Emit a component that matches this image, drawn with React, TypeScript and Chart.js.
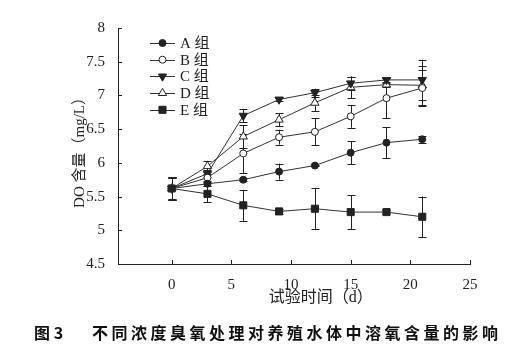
import React, { useEffect, useRef } from "react";
import { Chart, registerables } from "chart.js";

Chart.register(...registerables);

const days = [0, 3, 6, 9, 12, 15, 18, 21];
const groupA = [5.62, 5.69, 5.75, 5.87, 5.96, 6.15, 6.3, 6.35];
const groupAErr = [0.17, 0.03, 0.02, 0.12, 0.01, 0.17, 0.23, 0.05];
const groupB = [5.62, 5.78, 6.14, 6.38, 6.46, 6.69, 6.96, 7.11];
const groupBErr = [0.16, 0.05, 0.29, 0.11, 0.2, 0.17, 0.3, 0.26];
const groupC = [5.62, 5.84, 6.7, 6.94, 7.04, 7.18, 7.23, 7.23];
const groupCErr = [0.17, 0.05, 0.1, 0.03, 0.06, 0.1, 0.03, 0.3];
const groupD = [5.62, 5.95, 6.39, 6.64, 6.89, 7.12, 7.16, 7.15];
const groupDErr = [0.15, 0.08, 0.17, 0.1, 0.12, 0.16, 0.03, 0.29];
const groupE = [5.62, 5.54, 5.37, 5.28, 5.32, 5.27, 5.27, 5.2];
const groupEErr = [0.17, 0.12, 0.23, 0.04, 0.3, 0.25, 0.03, 0.3];

const seriesLabels = ["A 组", "B 组", "C 组", "D 组", "E 组"];
const xTickValues = [0, 5, 10, 15, 20, 25];
const yTickValues = [4.5, 5, 5.5, 6, 6.5, 7, 7.5, 8];
const xTitle = "试验时间（d）";
const yTitle = "DO 含量（mg/L）";
const captionNum = "图 3";
const captionText = "不同浓度臭氧处理对养殖水体中溶氧含量的影响";

const INK = "#222";
const LINE = "#333";
const TICK_FONT = '15px "Liberation Serif", "Noto Sans CJK SC", serif';

const errorBarPlugin = {
  id: "errorBars",
  beforeDatasetsDraw(chart: any) {
    const ctx = chart.ctx;
    const ys = chart.scales.y;
    ctx.save();
    ctx.strokeStyle = INK;
    ctx.lineWidth = 1;
    chart.data.datasets.forEach((ds: any, di: number) => {
      const meta = chart.getDatasetMeta(di);
      meta.data.forEach((pt: any, i: number) => {
        const v = ds.data[i].y;
        const e = ds.errors[i];
        const x = Math.round(pt.x) + 0.5;
        const top = ys.getPixelForValue(v + e);
        const bot = ys.getPixelForValue(v - e);
        ctx.beginPath();
        ctx.moveTo(x, top);
        ctx.lineTo(x, bot);
        ctx.moveTo(x - 4, Math.round(top) + 0.5);
        ctx.lineTo(x + 4, Math.round(top) + 0.5);
        ctx.moveTo(x - 4, Math.round(bot) + 0.5);
        ctx.lineTo(x + 4, Math.round(bot) + 0.5);
        ctx.stroke();
      });
    });
    ctx.restore();
  },
};

function drawPoint(ctx: any, style: string, radius: number, x: number, y: number, rotationDeg: number) {
  ctx.beginPath();
  if (style === "circle") {
    ctx.arc(x, y, radius, 0, Math.PI * 2);
  } else if (style === "rect") {
    const s = radius * Math.SQRT1_2;
    ctx.rect(x - s, y - s, 2 * s, 2 * s);
  } else if (style === "triangle") {
    const rad = (rotationDeg * Math.PI) / 180;
    for (let k = 0; k < 3; k++) {
      const a = rad - Math.PI / 2 + (k * 2 * Math.PI) / 3;
      const px = x + Math.cos(a) * radius;
      const py = y + Math.sin(a) * radius;
      if (k === 0) ctx.moveTo(px, py);
      else ctx.lineTo(px, py);
    }
    ctx.closePath();
  }
  ctx.fill();
  ctx.stroke();
}

const decorPlugin = {
  id: "decor",
  afterDraw(chart: any) {
    const ctx = chart.ctx;
    const xs = chart.scales.x;
    const ys = chart.scales.y;
    const area = chart.chartArea;
    ctx.save();
    // inward ticks
    ctx.strokeStyle = INK;
    ctx.lineWidth = 1;
    ctx.beginPath();
    xs.ticks.forEach((t: any) => {
      const px = Math.round(xs.getPixelForValue(t.value)) + 0.5;
      ctx.moveTo(px, area.bottom);
      ctx.lineTo(px, area.bottom - 4);
    });
    ys.ticks.forEach((t: any) => {
      const py = Math.round(ys.getPixelForValue(t.value)) + 0.5;
      ctx.moveTo(area.left, py);
      ctx.lineTo(area.left + 4, py);
    });
    ctx.stroke();

    // legend
    const legendX = area.left + 32;
    const legendY = area.top + 15;
    const legendStep = 16.7;
    chart.data.datasets.forEach((ds: any, di: number) => {
      const y = legendY + di * legendStep;
      ctx.strokeStyle = LINE;
      ctx.lineWidth = 1;
      ctx.beginPath();
      ctx.moveTo(legendX, Math.round(y) + 0.5);
      ctx.lineTo(legendX + 25, Math.round(y) + 0.5);
      ctx.stroke();
      ctx.save();
      ctx.fillStyle = ds.pointBackgroundColor;
      ctx.strokeStyle = ds.pointBorderColor;
      ctx.lineWidth = 1;
      drawPoint(ctx, ds.pointStyle, ds.pointRadius, legendX + 12.5, y, ds.pointRotation || 0);
      ctx.restore();
      ctx.fillStyle = INK;
      ctx.font = TICK_FONT;
      ctx.textBaseline = "middle";
      ctx.textAlign = "left";
      ctx.fillText(ds.label, legendX + 30, y + 1);
    });

    // axis titles
    ctx.fillStyle = INK;
    ctx.font = '16px "Liberation Serif", "Noto Sans CJK SC", serif';
    ctx.textAlign = "center";
    ctx.textBaseline = "middle";
    const xCenter = (xs.getPixelForValue(xTickValues[0]) + xs.getPixelForValue(xTickValues[xTickValues.length - 1])) / 2;
    ctx.fillText(xTitle, xCenter, area.bottom + 34);
    ctx.save();
    ctx.font = '15px "Liberation Serif", "Noto Sans CJK SC", serif';
    ctx.translate(80, (area.top + area.bottom) / 2 + 3);
    ctx.rotate(-Math.PI / 2);
    ctx.fillText(yTitle, 0, 0);
    ctx.restore();

    // caption
    ctx.font = 'bold 16px "Noto Sans CJK SC", "Liberation Sans", sans-serif';
    ctx.textAlign = "left";
    ctx.fillStyle = "#111";
    ctx.fillText(captionNum, 34, 333);
    (ctx as any).letterSpacing = "3.5px";
    ctx.fillText(captionText, 92, 333);
    ctx.restore();
  },
};

function makeDataset(label: string, values: number[], errors: number[], style: string, filled: boolean, radius: number, rotation = 0) {
  return {
    label,
    data: values.map((v, i) => ({ x: days[i], y: v })),
    errors,
    borderColor: LINE,
    borderWidth: 1,
    backgroundColor: filled ? INK : "#fff",
    pointStyle: style,
    pointRadius: radius,
    pointRotation: rotation,
    pointBackgroundColor: filled ? INK : "#fff",
    pointBorderColor: INK,
    pointBorderWidth: 1,
    tension: 0,
    fill: false,
  };
}

export default function App() {
  const canvasRef = useRef<HTMLCanvasElement | null>(null);

  useEffect(() => {
    const canvas = canvasRef.current;
    if (!canvas) return;
    const chart = new Chart(canvas, {
      type: "line",
      data: {
        datasets: [
          makeDataset(seriesLabels[0], groupA, groupAErr, "circle", true, 3.5),
          makeDataset(seriesLabels[1], groupB, groupBErr, "circle", false, 3.5),
          makeDataset(seriesLabels[2], groupC, groupCErr, "triangle", true, 4.8, 180),
          makeDataset(seriesLabels[3], groupD, groupDErr, "triangle", false, 4.8),
          makeDataset(seriesLabels[4], groupE, groupEErr, "rect", true, 5),
        ] as any,
      },
      options: {
        animation: false,
        responsive: false,
        maintainAspectRatio: false,
        layout: { padding: { left: 0, top: 28, right: 59, bottom: 0 } },
        plugins: { legend: { display: false }, tooltip: { enabled: false } },
        scales: {
          x: {
            type: "linear",
            min: -4.5,
            max: 25,
            grid: { display: false },
            border: { display: true, color: INK, width: 1 },
            afterBuildTicks: (scale: any) => {
              scale.ticks = xTickValues.map((v) => ({ value: v }));
            },
            afterFit: (scale: any) => {
              scale.height = 94;
            },
            ticks: {
              color: INK,
              font: { family: '"Liberation Serif", serif', size: 15 },
              padding: 4,
              maxRotation: 0,
              autoSkip: false,
              callback: (v: any) => String(v),
            },
          },
          y: {
            type: "linear",
            min: 4.5,
            max: 8,
            grid: { display: false },
            border: { display: true, color: INK, width: 1 },
            afterBuildTicks: (scale: any) => {
              scale.ticks = yTickValues.map((v) => ({ value: v }));
            },
            afterFit: (scale: any) => {
              scale.width = 118;
            },
            ticks: {
              color: INK,
              font: { family: '"Liberation Serif", serif', size: 15 },
              padding: 5,
              autoSkip: false,
              callback: (v: any) => String(v),
            },
          },
        },
      } as any,
      plugins: [errorBarPlugin, decorPlugin],
    });
    return () => chart.destroy();
  }, []);

  return (
    <div style={{ position: "absolute", left: 0, top: 0, width: 529, height: 358, background: "#fff" }}>
      <canvas ref={canvasRef} width={529} height={358} style={{ width: 529, height: 358, display: "block" }} />
    </div>
  );
}
